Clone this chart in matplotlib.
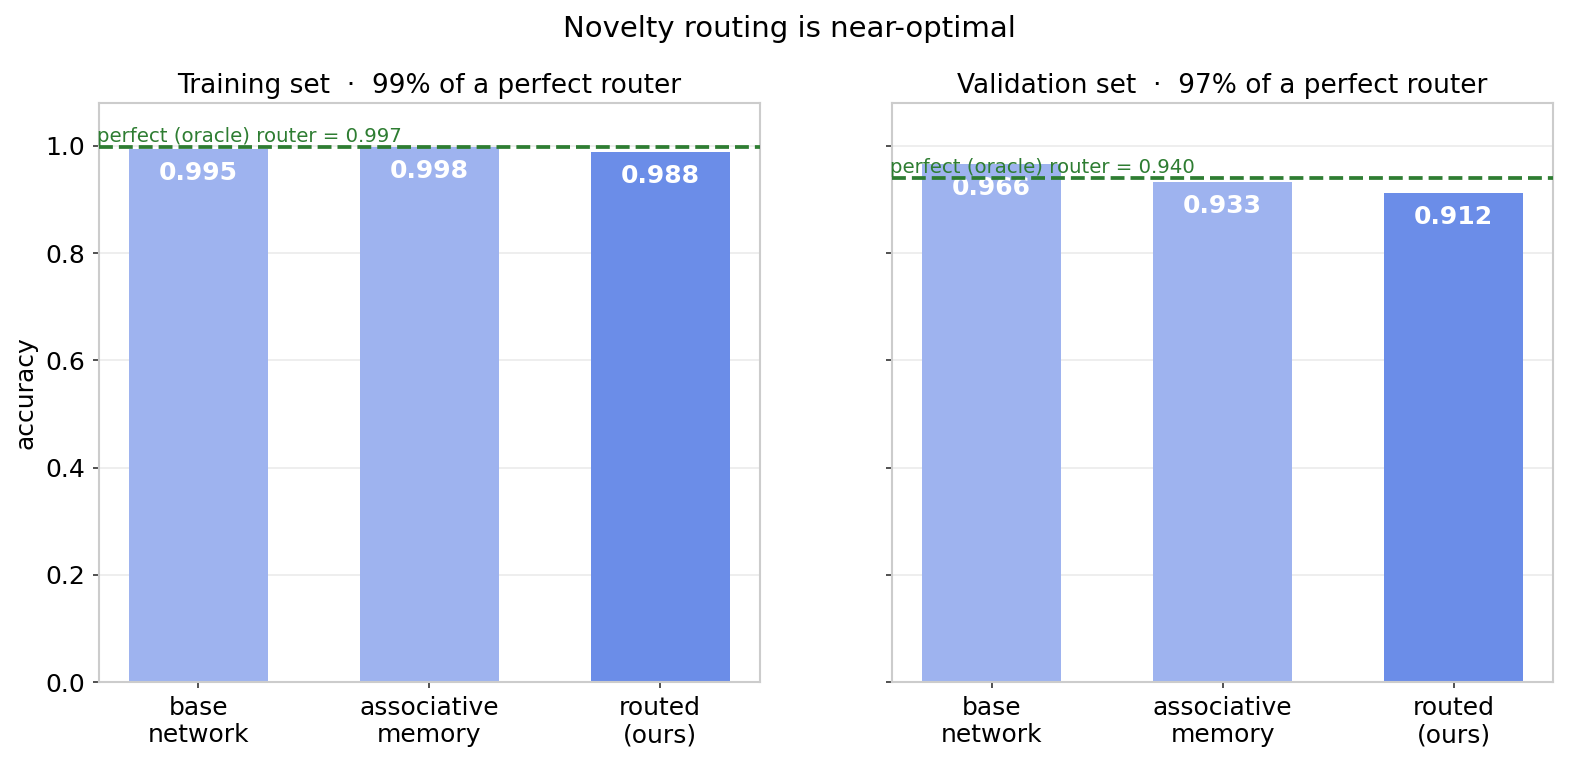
import matplotlib
matplotlib.use("Agg")
import numpy as np
from matplotlib import pyplot as plt

# data
methods = ["base\nnetwork", "associative\nmemory", "routed\n(ours)"]
train_acc = [0.995, 0.998, 0.988]
val_acc = [0.966, 0.933, 0.912]
train_oracle = 0.997
val_oracle = 0.940
panel_titles = ["Training set  \u00b7  99% of a perfect router",
                "Validation set  \u00b7  97% of a perfect router"]

LIGHT = "#9eb3ef"
DARK = "#6b8de8"
GREEN = "#2e7d32"


def draw_panel(ax, values, oracle, title):
    x = np.arange(len(values))
    colors = [LIGHT] * (len(values) - 1) + [DARK]
    ax.bar(x, values, width=0.6, color=colors, zorder=2)
    for xi, v in zip(x, values):
        ax.text(xi, v - 0.045, f"{v:.3f}", ha="center", va="center",
                color="white", fontsize=12, fontweight="bold", zorder=3)
    ax.axhline(oracle, color=GREEN, linestyle="--", linewidth=1.8, zorder=4)
    ax.text(-0.44, oracle + 0.002, f"perfect (oracle) router = {oracle:.3f}",
            color=GREEN, fontsize=9.5, ha="left", va="bottom", zorder=5)
    ax.set_xticks(x)
    ax.set_xticklabels(methods)
    ax.set_title(title, fontsize=12.7, pad=5)
    ax.set_ylim(0, 1.08)
    ax.grid(axis="y", color="#ebebeb", linewidth=0.8, zorder=0)
    ax.set_axisbelow(True)
    for s in ax.spines.values():
        s.set_color("#cccccc")
        s.set_linewidth(1.0)
    ax.tick_params(labelsize=12, length=3, color="#333333")


fig, axes = plt.subplots(1, 2, figsize=(10.521, 5.107), dpi=150, sharey=True)
draw_panel(axes[0], train_acc, train_oracle, panel_titles[0])
draw_panel(axes[1], val_acc, val_oracle, panel_titles[1])
axes[0].set_ylabel("accuracy", fontsize=12)
axes[0].set_yticks([0.0, 0.2, 0.4, 0.6, 0.8, 1.0])

fig.suptitle("Novelty routing is near-optimal", fontsize=14, y=0.962, va="center")
fig.subplots_adjust(left=0.0627, right=0.984, bottom=0.1097, top=0.8655, wspace=0.201)
fig.savefig("out.png", dpi=150)
